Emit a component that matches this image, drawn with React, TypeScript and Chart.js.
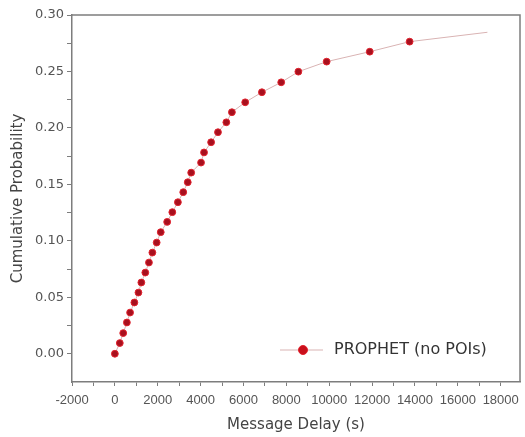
import React, { useEffect, useRef } from "react";
import { Chart, registerables } from "chart.js";

Chart.register(...registerables);

// Message delay (s) of the plotted markers
const delays = [
  0, 230, 390, 560, 710, 910, 1100, 1235, 1420, 1590, 1750, 1950, 2140, 2440,
  2680, 2940, 3190, 3400, 3560, 4020, 4160, 4490, 4810, 5200, 5460, 6080, 6860,
  7760, 8560, 9880, 11890, 13750,
];
// Cumulative probability at each marker
const probs = [
  0, 0.0095, 0.0183, 0.0277, 0.0365, 0.0454, 0.0542, 0.0631, 0.0719, 0.0808,
  0.0896, 0.0985, 0.1077, 0.1168, 0.1254, 0.1342, 0.1431, 0.1519, 0.1604,
  0.1693, 0.1783, 0.1873, 0.1962, 0.205, 0.2139, 0.2227, 0.2316, 0.2404,
  0.2498, 0.2587, 0.2675, 0.2764,
];
// Line continues past the last marker
const tailDelays = [17380];
const tailProbs = [0.2847];

const seriesLabel = "PROPHET (no POIs)";
const xTitle = "Message Delay (s)";
const yTitle = "Cumulative Probability";
const xMin = -2000;
const xMax = 18900;
const yMin = -0.025;
const yMax = 0.3;
// tick positions (major ones get labels)
const xTicks = [
  -2000, -1000, 0, 1000, 2000, 3000, 4000, 5000, 6000, 7000, 8000, 9000,
  10000, 11000, 12000, 13000, 14000, 15000, 16000, 17000, 18000,
];
const xLabelEvery = 2000;
const yTicks = [
  0, 0.025, 0.05, 0.075, 0.1, 0.125, 0.15, 0.175, 0.2, 0.225, 0.25, 0.275, 0.3,
];
const yLabelEvery = 0.05;

const FONT = "'DejaVu Sans', 'Liberation Sans', sans-serif";
const XTICK_FONT = "'Liberation Sans', Arial, sans-serif";
const AXIS = "#7d7d7d";
const MARK_FILL = "#a8101e";
const MARK_EDGE = "#e2232e";
const LINE = "#d9b3b3";

const isMajor = (v: number, every: number) =>
  Math.abs(v / every - Math.round(v / every)) < 1e-6;

export default function App() {
  const ref = useRef<HTMLCanvasElement>(null);

  useEffect(() => {
    if (!ref.current) return;
    const pts = delays.map((x, i) => ({ x, y: probs[i] }));
    const tail = tailDelays.map((x, i) => ({ x, y: tailProbs[i] }));
    const all = [...pts, ...tail];
    const radii = all.map((_, i) => (i < pts.length ? 3.4 : 0));

    const framePlugin = {
      id: "frameAndLegend",
      afterDraw(chart: any) {
        const { ctx, chartArea: a } = chart;
        ctx.save();
        // top and right frame
        ctx.strokeStyle = AXIS;
        ctx.lineWidth = 1.5;
        ctx.beginPath();
        ctx.moveTo(a.left, a.top);
        ctx.lineTo(a.right, a.top);
        ctx.lineTo(a.right, a.bottom);
        ctx.stroke();

        // legend inside plot area
        const ly = a.bottom - 32;
        const tx = a.left + 262;
        ctx.strokeStyle = LINE;
        ctx.lineWidth = 1;
        ctx.beginPath();
        ctx.moveTo(tx - 54, ly);
        ctx.lineTo(tx - 11, ly);
        ctx.stroke();
        ctx.beginPath();
        ctx.arc(tx - 31, ly, 4.5, 0, Math.PI * 2);
        ctx.fillStyle = "#c8101c";
        ctx.fill();
        ctx.strokeStyle = MARK_EDGE;
        ctx.stroke();
        ctx.fillStyle = "#333";
        ctx.font = `16px ${FONT}`;
        ctx.textBaseline = "middle";
        ctx.textAlign = "left";
        ctx.fillText(chart.data.datasets[0].label, tx, ly);
        ctx.restore();
      },
    };

    const chart = new Chart(ref.current, {
      type: "line",
      data: {
        datasets: [
          {
            label: seriesLabel,
            data: all,
            borderColor: LINE,
            borderWidth: 1,
            pointRadius: radii,
            pointBackgroundColor: MARK_FILL,
            pointBorderColor: MARK_EDGE,
            pointBorderWidth: 1,
            tension: 0,
            fill: false,
          },
        ],
      },
      options: {
        animation: false,
        responsive: false,
        maintainAspectRatio: false,
        layout: { padding: { top: 15, right: 3, left: 0, bottom: 0 } },
        plugins: { legend: { display: false }, tooltip: { enabled: false } },
        scales: {
          x: {
            type: "linear",
            min: xMin,
            max: xMax,
            border: { display: true, color: AXIS, width: 1.5 },
            grid: {
              drawOnChartArea: false,
              drawTicks: true,
              tickLength: 4,
              color: AXIS,
              lineWidth: 1,
            },
            afterBuildTicks: (s: any) => {
              s.ticks = xTicks.map((v) => ({ value: v }));
            },
            ticks: {
              autoSkip: false,
              maxRotation: 0,
              minRotation: 0,
              color: "#555",
              font: { family: XTICK_FONT, size: 13 },
              padding: 7,
              callback: (v: any) =>
                isMajor(Number(v), xLabelEvery) ? String(v) : "",
            },
            title: {
              display: true,
              text: xTitle,
              color: "#444",
              font: { family: FONT, size: 15 },
              padding: { top: 0, bottom: 3 },
            },
            afterFit: (s: any) => {
              s.height = 55;
              s.paddingLeft = 0;
              s.paddingRight = 0;
            },
          },
          y: {
            type: "linear",
            min: yMin,
            max: yMax,
            border: { display: true, color: AXIS, width: 1.5 },
            grid: {
              drawOnChartArea: false,
              drawTicks: true,
              tickLength: 5,
              color: AXIS,
              lineWidth: 1,
            },
            afterBuildTicks: (s: any) => {
              s.ticks = yTicks.map((v) => ({ value: v }));
            },
            ticks: {
              autoSkip: false,
              color: "#555",
              font: { family: FONT, size: 13 },
              padding: 3,
              callback: (v: any) =>
                isMajor(Number(v), yLabelEvery) ? Number(v).toFixed(2) : "",
            },
            title: {
              display: true,
              text: yTitle,
              color: "#444",
              font: { family: FONT, size: 15 },
              padding: { top: 9, bottom: 0 },
            },
            afterFit: (s: any) => {
              s.width = 72;
              s.paddingTop = 0;
              s.paddingBottom = 0;
            },
          },
        },
      },
      plugins: [framePlugin],
    });
    return () => chart.destroy();
  }, []);

  return (
    <div
      style={{
        position: "fixed",
        left: 0,
        top: 0,
        width: 525,
        height: 437,
        background: "#fff",
      }}
    >
      <canvas
        ref={ref}
        width={525}
        height={437}
        style={{ display: "block", width: 525, height: 437 }}
      />
    </div>
  );
}
